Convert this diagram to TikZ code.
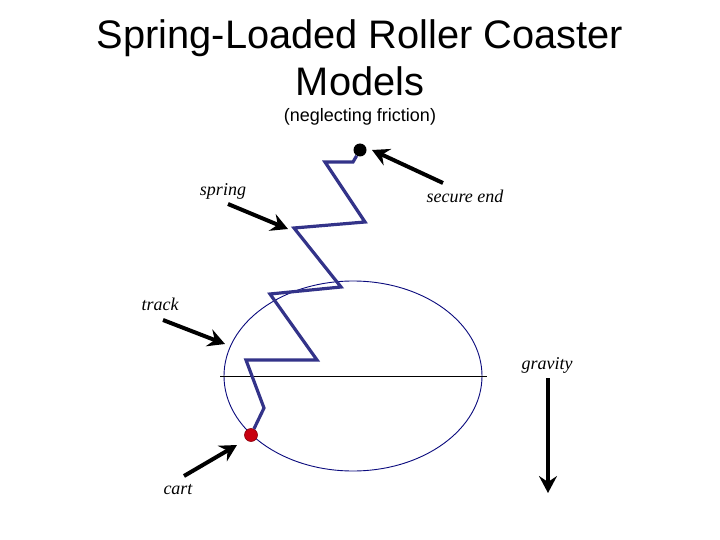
\documentclass[tikz,border=0pt]{standalone}
\usepackage{fontspec}
\setmainfont{Liberation Serif}
\newfontfamily\titlefont{Liberation Sans}
\usetikzlibrary{arrows.meta}
\definecolor{springblue}{RGB}{51,51,137}
\definecolor{trackblue}{RGB}{10,10,125}
\definecolor{cartred}{RGB}{200,0,16}
\tikzset{
  label/.style={font=\fontsize{18}{20}\selectfont\itshape, inner sep=0pt},
  pointer/.style={line width=4pt, -{Stealth[length=17pt,width=18pt,inset=6pt]}},
  springline/.style={draw=springblue, line width=3.2pt, line join=miter},
}
\begin{document}
\begin{tikzpicture}[x=1pt,y=-1pt]
\useasboundingbox (0,0) rectangle (720,540);
\node[font=\titlefont\fontsize{39.8}{47}\selectfont, align=center, inner sep=0pt] (title) at (360,57.5) {Spring-Loaded Roller Coaster\\Models};
\node[font=\titlefont\fontsize{18}{20}\selectfont, inner sep=0pt] (note) at (360,116.5) {(neglecting friction)};
% track
\draw[trackblue, line width=0.9pt] (353,376) ellipse [x radius=129, y radius=95];
\draw[black, line width=0.8pt] (220,376) -- (487,376);
% points of the spring
\coordinate (s1) at (353,162);
\coordinate (s2) at (325,162);
\coordinate (s3) at (365,222);
\coordinate (s4) at (294,228);
\coordinate (s5) at (341,287);
\coordinate (s6) at (270,294);
\coordinate (s7) at (317,360);
\coordinate (s8) at (246,360);
\coordinate (s9) at (264,408);
\node[circle, fill=black, minimum size=13pt, inner sep=0pt] (secure) at (360,150) {};
\node[circle, fill=cartred, draw=cartred!70!black, line width=0.6pt, minimum size=13pt, inner sep=0pt] (cart) at (251,435) {};
\draw[springline] (secure) -- (s1) -- (s2) -- (s3) -- (s4) -- (s5) -- (s6) -- (s7) -- (s8) -- (s9) -- (cart);
% labels
\node[label] (springlabel) at (223,191) {spring};
\node[label] (securelabel) at (465,196) {secure end};
\node[label] (tracklabel) at (160,304) {track};
\node[label] (cartlabel) at (178,490) {cart};
\node[label] (gravitylabel) at (547,365) {gravity};
% arrows
\coordinate (a1) at (228,204);
\coordinate (b1) at (288,229);
\coordinate (a2) at (443,183);
\coordinate (b2) at (372,150);
\coordinate (a3) at (163,320);
\coordinate (b3) at (225,344);
\coordinate (a4) at (184,476);
\coordinate (b4) at (237,445);
\coordinate (a5) at (548,378);
\coordinate (b5) at (548,493);
\draw[pointer] (a1) -- (b1);
\draw[pointer] (a2) -- (b2);
\draw[pointer] (a3) -- (b3);
\draw[pointer] (a4) -- (b4);
\draw[pointer] (a5) -- (b5);
\end{tikzpicture}
\end{document}
